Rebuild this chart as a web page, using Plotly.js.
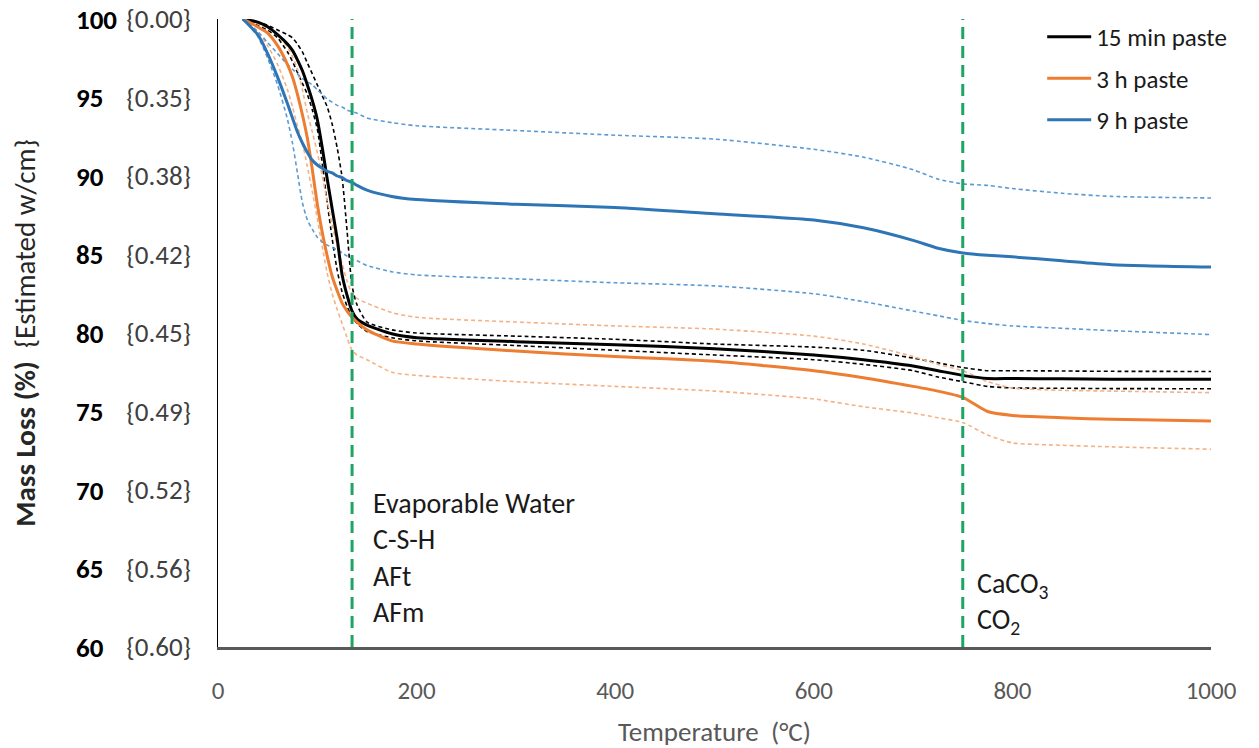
<!DOCTYPE html>
<html>
<head>
<meta charset="utf-8">
<script src="https://cdn.plot.ly/plotly-3.0.1.min.js"></script>
<style>html,body{margin:0;padding:0;background:#fff;}#chart{width:1259px;height:748px;}</style>
</head>
<body>
<div id="chart"></div>
<script>
// Temperature grid (°C)
var temps = [25, 40, 50, 60, 70, 75, 80, 85, 90, 95, 100, 105, 110, 115, 120, 125, 130, 135, 140, 150, 175, 200, 300, 400, 500, 600, 650, 700, 725, 750, 775, 800, 850, 900, 1000];

// 15 min paste (mean, upper, lower)
var min15 = [100, 99.8, 99.5, 99.0, 98.4, 98.0, 97.4, 96.7, 95.8, 94.8, 93.6, 91.8, 89.8, 87.9, 86.0, 83.7, 82.4, 81.4, 80.9, 80.5, 79.95, 79.7, 79.45, 79.25, 79.0, 78.6, 78.3, 77.9, 77.6, 77.3, 77.1, 77.1, 77.08, 77.06, 77.05];
var min15Hi = [100, 99.8, 99.6, 99.3, 99.0, 98.8, 98.4, 97.9, 97.2, 96.5, 95.8, 95.1, 94.4, 93.3, 91.8, 89.9, 86.5, 83.0, 81.8, 80.7, 80.2, 80.0, 79.8, 79.6, 79.3, 79.1, 78.9, 78.4, 78.1, 77.8, 77.6, 77.6, 77.58, 77.56, 77.55];
var min15Lo = [100, 99.6, 99.3, 98.8, 97.9, 97.3, 96.6, 95.9, 95.2, 94.2, 93.0, 90.8, 88.3, 86.0, 84.0, 82.6, 81.7, 81.0, 80.6, 80.1, 79.7, 79.5, 79.2, 78.9, 78.6, 78.3, 78.0, 77.6, 77.2, 76.9, 76.6, 76.5, 76.48, 76.46, 76.45];

// 3 h paste
var h3 = [100, 99.5, 99.1, 98.3, 97.1, 96.3, 95.2, 93.9, 92.4, 90.4, 88.2, 86.4, 84.9, 83.6, 82.7, 81.9, 81.4, 81.0, 80.7, 80.2, 79.5, 79.3, 78.85, 78.5, 78.2, 77.6, 77.15, 76.6, 76.3, 75.9, 75.0, 74.75, 74.6, 74.5, 74.4];
var h3Hi = [100, 99.7, 99.4, 99.0, 98.2, 97.6, 96.8, 95.5, 94.0, 92.8, 91.5, 90.0, 88.4, 86.9, 85.6, 84.4, 83.3, 82.5, 82.2, 81.9, 81.3, 81.0, 80.7, 80.45, 80.25, 79.8, 79.3, 78.5, 78.0, 77.6, 76.9, 76.5, 76.35, 76.3, 76.2];
var h3Lo = [100, 99.2, 98.3, 97.1, 95.5, 94.4, 93.2, 92.1, 90.6, 89.0, 87.3, 85.5, 83.8, 82.5, 81.5, 80.6, 79.7, 78.9, 78.6, 78.3, 77.5, 77.3, 76.9, 76.6, 76.3, 75.8, 75.3, 74.9, 74.6, 74.3, 73.5, 73.0, 72.85, 72.75, 72.6];

// 9 h paste
var h9 = [100, 99.0, 97.8, 96.3, 94.6, 93.7, 92.8, 92.1, 91.5, 91.0, 90.7, 90.5, 90.3, 90.2, 90.0, 89.9, 89.7, 89.6, 89.4, 89.1, 88.7, 88.5, 88.2, 88.0, 87.6, 87.2, 86.7, 85.9, 85.4, 85.1, 84.95, 84.85, 84.6, 84.35, 84.2];
var h9Hi = [100, 99.2, 98.5, 97.8, 97.1, 96.8, 96.5, 96.2, 96.0, 95.8, 95.5, 95.2, 94.9, 94.7, 94.5, 94.4, 94.2, 94.1, 94.0, 93.7, 93.4, 93.2, 92.9, 92.6, 92.35, 91.7, 91.2, 90.4, 89.8, 89.5, 89.4, 89.2, 88.9, 88.7, 88.6];
var h9Lo = [100, 98.9, 97.5, 95.8, 93.6, 92.1, 90.2, 88.3, 87.2, 86.6, 86.1, 85.8, 85.6, 85.45, 85.3, 85.1, 84.9, 84.7, 84.6, 84.3, 83.9, 83.7, 83.45, 83.2, 83.0, 82.5, 82.0, 81.4, 81.1, 80.8, 80.6, 80.45, 80.3, 80.15, 79.9];

var seriesNames = ['15 min paste', '3 h paste', '9 h paste'];

// Axis tick labels
var yTickVals = [100, 95, 90, 85, 80, 75, 70, 65, 60];
var yTickNums = ['100', '95', '90', '85', '80', '75', '70', '65', '60'];
var wcmLabels = ['{0.00}', '{0.35}', '{0.38}', '{0.42}', '{0.45}', '{0.49}', '{0.52}', '{0.56}', '{0.60}'];
var xTickVals = [0, 200, 400, 600, 800, 1000];

// Decomposition boundaries (°C) and labels
var boundaryTemps = [135, 750];
var regionLabels = ['Evaporable Water<br>C-S-H<br>AFt<br>AFm', 'CaCO<sub>3</sub><br>CO<sub>2</sub>'];
var regionLabelPos = [[154, 65.7], [762, 62.8]];

var FONT = "Carlito, Lato, 'Liberation Sans', sans-serif";
var colMain = ['#000000', '#ED7D31', '#2E75B6'];
var colBand = ['#000000', '#F4B183', '#5B9BD5'];

var mains = [min15, h3, h9];
var his = [min15Hi, h3Hi, h9Hi];
var los = [min15Lo, h3Lo, h9Lo];

var traces = [];
for (var i = 0; i < 3; i++) {
  [his[i], los[i]].forEach(function (arr) {
    traces.push({
      x: temps, y: arr, type: 'scatter', mode: 'lines', showlegend: false, hoverinfo: 'skip',
      line: {color: colBand[i], width: 1.6, dash: '4px,3px', shape: 'spline', smoothing: 0.6}
    });
  });
}
for (var j = 0; j < 3; j++) {
  traces.push({
    x: temps, y: mains[j], type: 'scatter', mode: 'lines', name: seriesNames[j],
    legendgroup: 'g' + j,
    line: {color: colMain[j], width: 3, shape: 'spline', smoothing: 0.6}
  });
}

var shapes = boundaryTemps.map(function (t) {
  return {type: 'line', xref: 'x', yref: 'paper', x0: t, x1: t, y0: 0, y1: 1,
    line: {color: '#1FA463', width: 3, dash: '12px,7px'}, layer: 'above'};
});

var annotations = [];
yTickVals.forEach(function (v, k) {
  annotations.push({xref: 'paper', yref: 'y', x: -0.145, y: v, xanchor: 'left', yanchor: 'middle',
    text: '<b>' + yTickNums[k] + '</b>', showarrow: false,
    font: {family: FONT, size: 27, color: '#000000'}});
});
regionLabels.forEach(function (t, k) {
  annotations.push({xref: 'x', yref: 'y', x: regionLabelPos[k][0], y: regionLabelPos[k][1],
    xanchor: 'left', yanchor: 'middle', align: 'left', text: t, showarrow: false,
    font: {family: FONT, size: 28, color: '#1a1a1a'}});
});

var layout = {
  width: 1259, height: 748,
  margin: {l: 218, r: 48, t: 19, b: 101},
  paper_bgcolor: '#ffffff', plot_bgcolor: '#ffffff',
  font: {family: FONT, color: '#262626'},
  showlegend: true,
  legend: {x: 0.83, y: 1.008, xanchor: 'left', yanchor: 'top', traceorder: 'grouped', tracegroupgap: 6,
    itemwidth: 44,
    font: {family: FONT, size: 25, color: '#1a1a1a'}, bgcolor: 'rgba(0,0,0,0)'},
  xaxis: {
    range: [0, 1000], tickvals: xTickVals, ticks: '', showgrid: false, zeroline: false,
    showline: true, linecolor: '#595959', linewidth: 2.5, mirror: false,
    tickfont: {family: FONT, size: 25, color: '#595959'}, ticklabelstandoff: 19,
    title: {text: 'Temperature  (°C)', font: {family: FONT, size: 27, color: '#595959'}, standoff: 19}
  },
  yaxis: {
    range: [60, 100], tickvals: yTickVals, ticktext: wcmLabels, ticks: '', showgrid: false, zeroline: false,
    showline: true, linecolor: '#000000', linewidth: 1.5,
    tickfont: {family: FONT, size: 27, color: '#404040'}, ticklabelstandoff: 20,
    title: {text: '<b>Mass Loss (%)</b>  {Estimated w/cm}', font: {family: FONT, size: 29, color: '#262626'}, standoff: 82}
  },
  shapes: shapes,
  annotations: annotations
};

Plotly.newPlot('chart', traces, layout, {displayModeBar: false, staticPlot: true});
</script>
</body>
</html>
